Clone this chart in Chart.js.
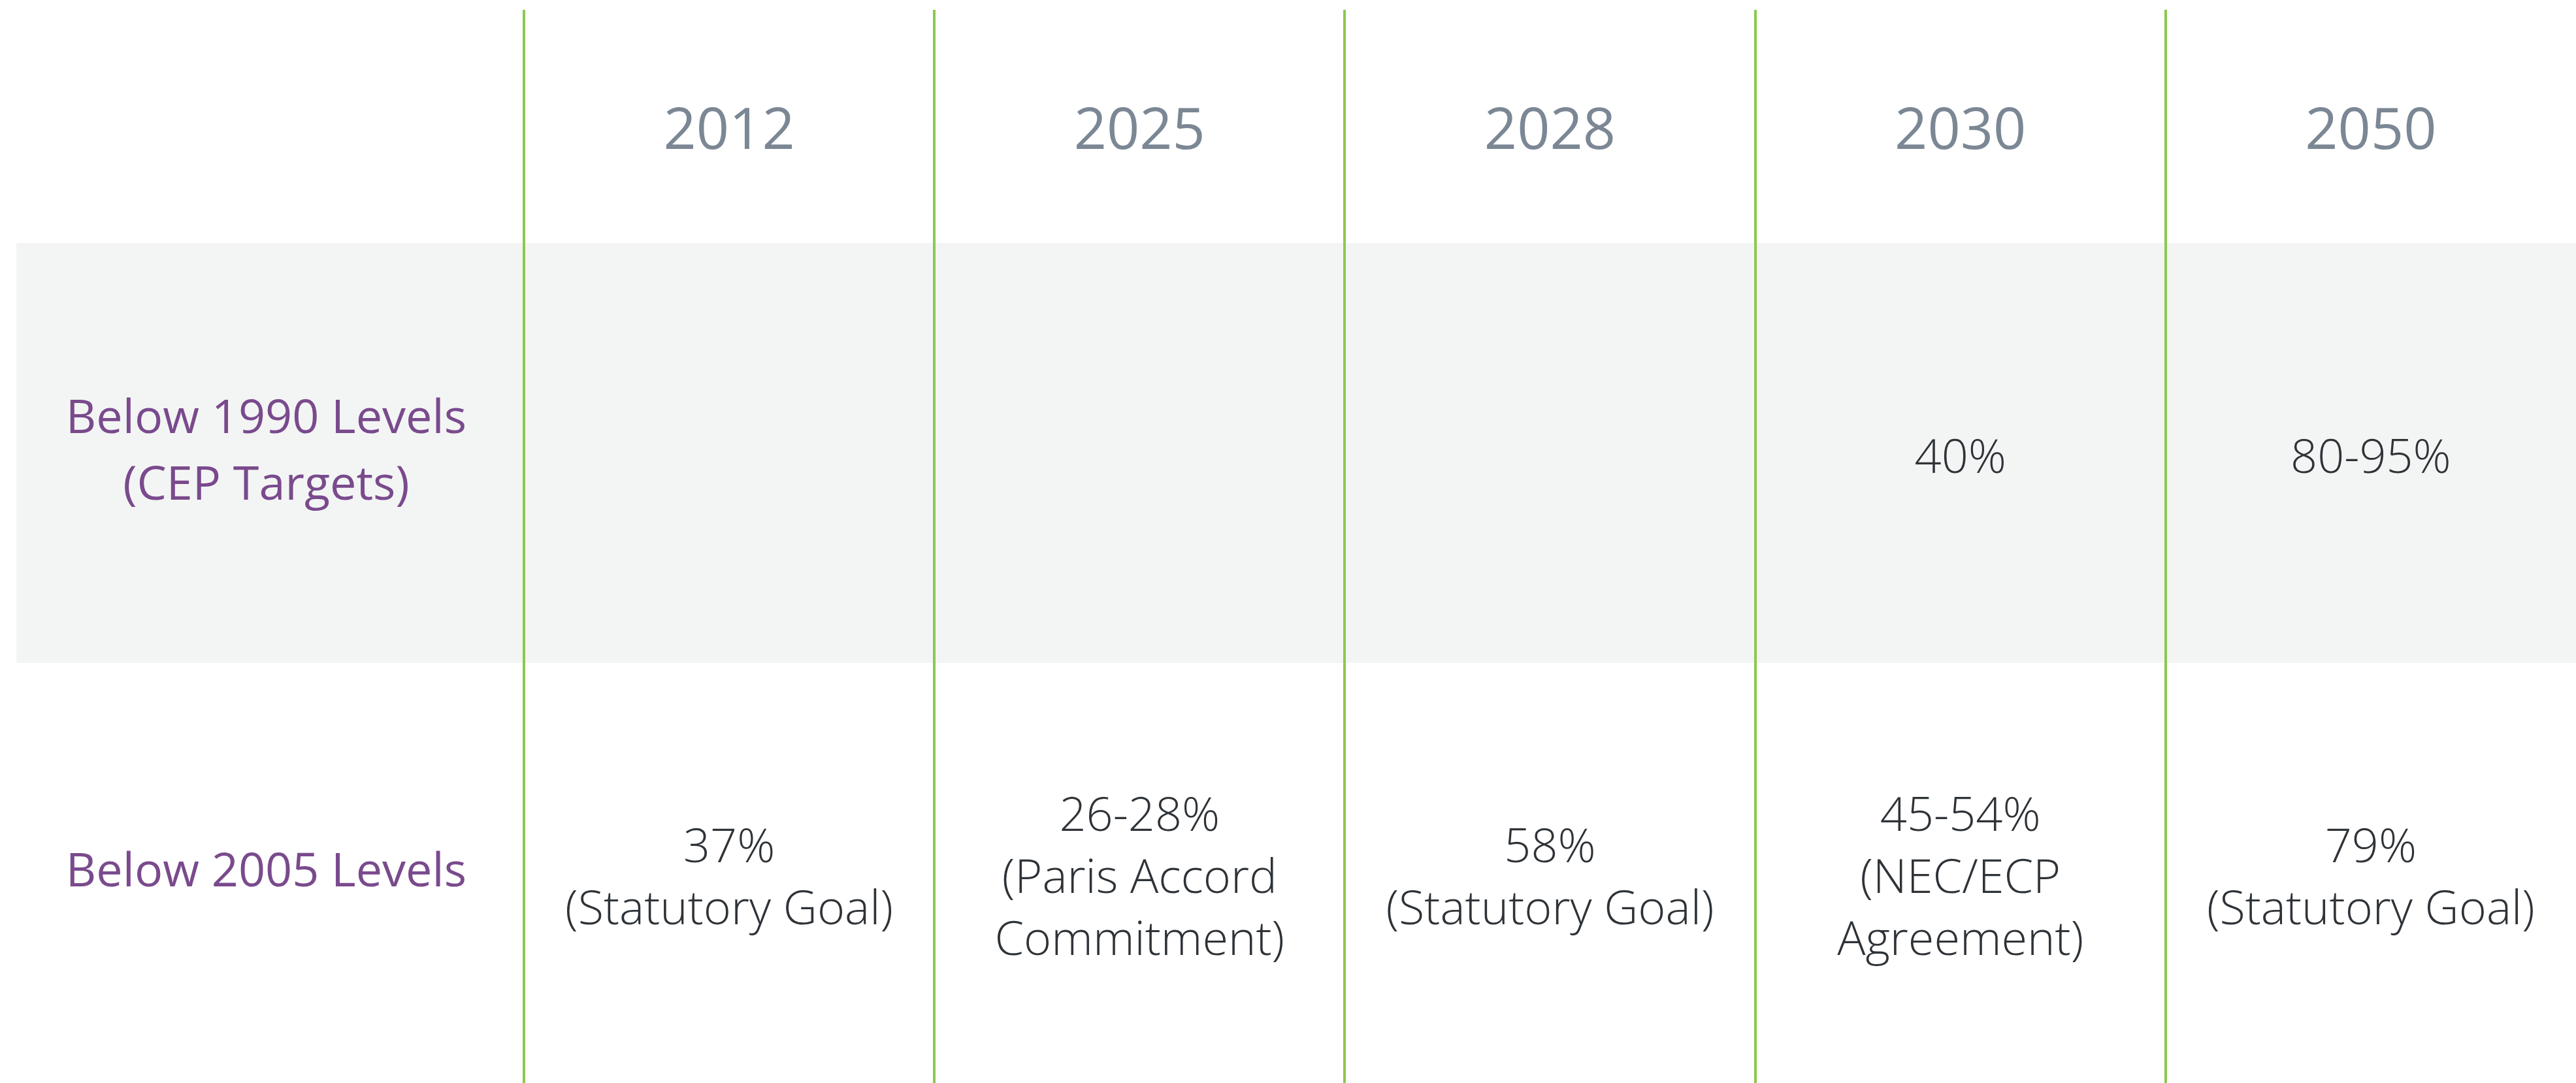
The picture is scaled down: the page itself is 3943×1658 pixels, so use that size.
<!DOCTYPE html>
<html>
<head>
<meta charset="utf-8">
<script src="https://cdn.jsdelivr.net/npm/chart.js@4.4.1/dist/chart.umd.min.js"></script>
<style>
    html, body { margin: 0; padding: 0; background: #ffffff; }
    #wrap { width: 3943px; height: 1658px; position: relative; }
</style>
</head>
<body>
<div id="wrap"><canvas id="targetsChart"></canvas></div>
<script>
// table contents
const years = ['2012', '2025', '2028', '2030', '2050'];
const rows = ['Below 1990 Levels', 'Below 2005 Levels'];
const rowNotes = ['(CEP Targets)', ''];
const below1990 = ['', '', '', '40%', '80-95%'];
const below2005 = ['37%', '26-28%', '58%', '45-54%', '79%'];
const notes2005 = [
    ['(Statutory Goal)'],
    ['(Paris Accord', 'Commitment)'],
    ['(Statutory Goal)'],
    ['(NEC/ECP', 'Agreement)'],
    ['(Statutory Goal)']
];

const green = '#8cc850';
const bandColor = '#f3f5f4';
const bodyFont = '300 72px "Open Sans"';
const bodyLine = 95;

// grey band behind the first row, spanning label column too
const bandPlugin = {
    id: 'band',
    beforeDraw(chart) {
        const y = chart.scales.y;
        const top = y.top;
        const bottom = (y.getPixelForValue(0) + y.getPixelForValue(1)) / 2;
        const ctx = chart.ctx;
        ctx.save();
        ctx.fillStyle = bandColor;
        ctx.fillRect(25, top, chart.width - 25, bottom - top);
        ctx.restore();
    }
};

// writes each cell's text at its point
const cellText = {
    id: 'cellText',
    afterDatasetsDraw(chart) {
        const ctx = chart.ctx;
        ctx.save();
        ctx.font = bodyFont;
        ctx.fillStyle = '#2e3338';
        ctx.textAlign = 'center';
        ctx.textBaseline = 'middle';
        chart.data.datasets.forEach((ds, di) => {
            chart.getDatasetMeta(di).data.forEach((pt, i) => {
                const lines = ds.cellLines[i];
                if (!lines.length) return;
                // small nudge so the glyphs sit visually centred in the row
                const start = pt.y + 10 - (lines.length - 1) * bodyLine / 2;
                lines.forEach((line, k) => ctx.fillText(line, pt.x, start + k * bodyLine));
            });
        });
        ctx.restore();
    }
};

const ctx = document.getElementById('targetsChart').getContext('2d');

new Chart(ctx, {
    type: 'scatter',
    data: {
        datasets: [
            {
                label: rows[0],
                data: years.map(yr => ({ x: yr, y: rows[0] })),
                cellLines: below1990.map(v => v ? [v] : []),
                pointRadius: 0
            },
            {
                label: rows[1],
                data: years.map(yr => ({ x: yr, y: rows[1] })),
                cellLines: below2005.map((v, i) => [v].concat(notes2005[i])),
                pointRadius: 0
            }
        ]
    },
    options: {
        responsive: true,
        maintainAspectRatio: false,
        animation: false,
        layout: { padding: 0 },
        scales: {
            x: {
                type: 'category',
                labels: years,
                position: 'top',
                offset: true,
                afterFit: scale => {
                    scale.height = 372;
                    scale.paddingLeft = 0;
                    scale.paddingRight = 0;
                },
                border: { display: false },
                grid: {
                    offset: true,
                    drawTicks: true,
                    tickLength: 357,
                    lineWidth: 4,
                    color: c => c.type === 'tick' ? green : 'rgba(0,0,0,0)'
                },
                ticks: {
                    autoSkip: false,
                    maxRotation: 0,
                    padding: -241,
                    color: '#7b8794',
                    font: { family: 'Open Sans', size: 88, weight: 400, lineHeight: 1.2 }
                }
            },
            y: {
                type: 'category',
                labels: rows,
                position: 'left',
                offset: true,
                afterFit: scale => {
                    scale.width = 802;
                    scale.paddingTop = 0;
                    scale.paddingBottom = 0;
                },
                border: { display: false },
                grid: { display: false },
                ticks: {
                    crossAlign: 'center',
                    padding: 80,
                    color: '#7a4a8d',
                    font: { family: 'Open Sans', size: 72, weight: 500, lineHeight: 1.42 },
                    callback: (v, i) => rowNotes[i] ? [rows[i], rowNotes[i]] : rows[i]
                }
            }
        },
        plugins: {
            legend: { display: false },
            tooltip: { enabled: false }
        }
    },
    plugins: [bandPlugin, cellText]
});
</script>
</body>
</html>
